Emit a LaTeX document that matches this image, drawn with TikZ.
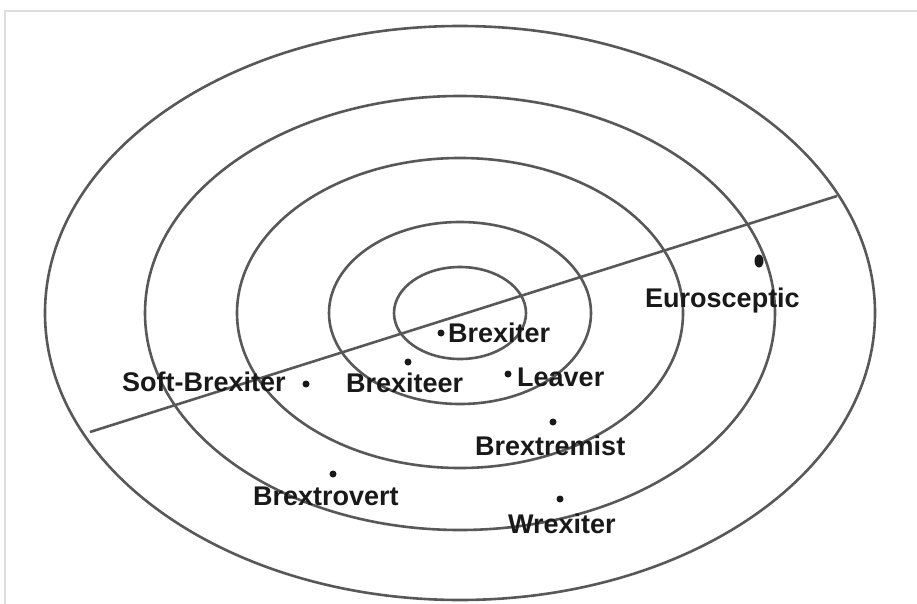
\documentclass[tikz,border=0pt]{standalone}
\usepackage{fontspec}
\usetikzlibrary{shapes.geometric}
\setmainfont{Liberation Sans}
\definecolor{ringc}{RGB}{88,88,88}
\definecolor{framec}{RGB}{222,222,222}
\definecolor{txtc}{RGB}{25,25,25}
\begin{document}
\begin{tikzpicture}[x=1pt,y=-1pt,
  ring/.style={draw=ringc,line width=2.6pt},
  lbl/.style={inner sep=0pt,anchor=base west,text=txtc,font=\fontsize{27}{32}\selectfont\bfseries},
  dotc/.style={fill=txtc,circle,inner sep=0pt,minimum size=7pt}]
\useasboundingbox (0,0) rectangle (917,604);
\fill[white] (0,0) rectangle (917,604);
\draw[framec,line width=1.2pt] (5,604) -- (5,11) -- (917,11);
\coordinate (c) at (460,313);
\draw[ring] (c) ellipse [x radius=415,y radius=287];
\draw[ring] (c) ellipse [x radius=315,y radius=217];
\draw[ring] (c) ellipse [x radius=223,y radius=155];
\draw[ring] (c) ellipse [x radius=131,y radius=91];
\draw[ring] (c) ellipse [x radius=66,y radius=46];
\coordinate (la) at (90,432);
\coordinate (lb) at (837,196);
\draw[ring] (la) -- (lb);
% dots
\node[dotc] (d1) at (441,333) {};
\node[dotc] (d2) at (408,362) {};
\node[dotc] (d3) at (306,384) {};
\node[dotc] (d4) at (508,374) {};
\node[dotc] (d5) at (553,422) {};
\node[dotc] (d6) at (333,474) {};
\node[dotc] (d7) at (560,499) {};
\node[fill=txtc,ellipse,inner sep=0pt,minimum width=9pt,minimum height=13pt] (d8) at (759,261) {};
% labels
\node[lbl] (t1) at (448,342) {Brexiter};
\node[lbl] (t2) at (346,392) {Brexiteer};
\node[lbl] (t3) at (122,391) {Soft-Brexiter};
\node[lbl] (t4) at (517,386) {Leaver};
\node[lbl] (t5) at (475,455) {Brextremist};
\node[lbl] (t6) at (253,505) {Brextrovert};
\node[lbl] (t7) at (508,533) {Wrexiter};
\node[lbl] (t8) at (645,307) {Eurosceptic};
\end{tikzpicture}
\end{document}
